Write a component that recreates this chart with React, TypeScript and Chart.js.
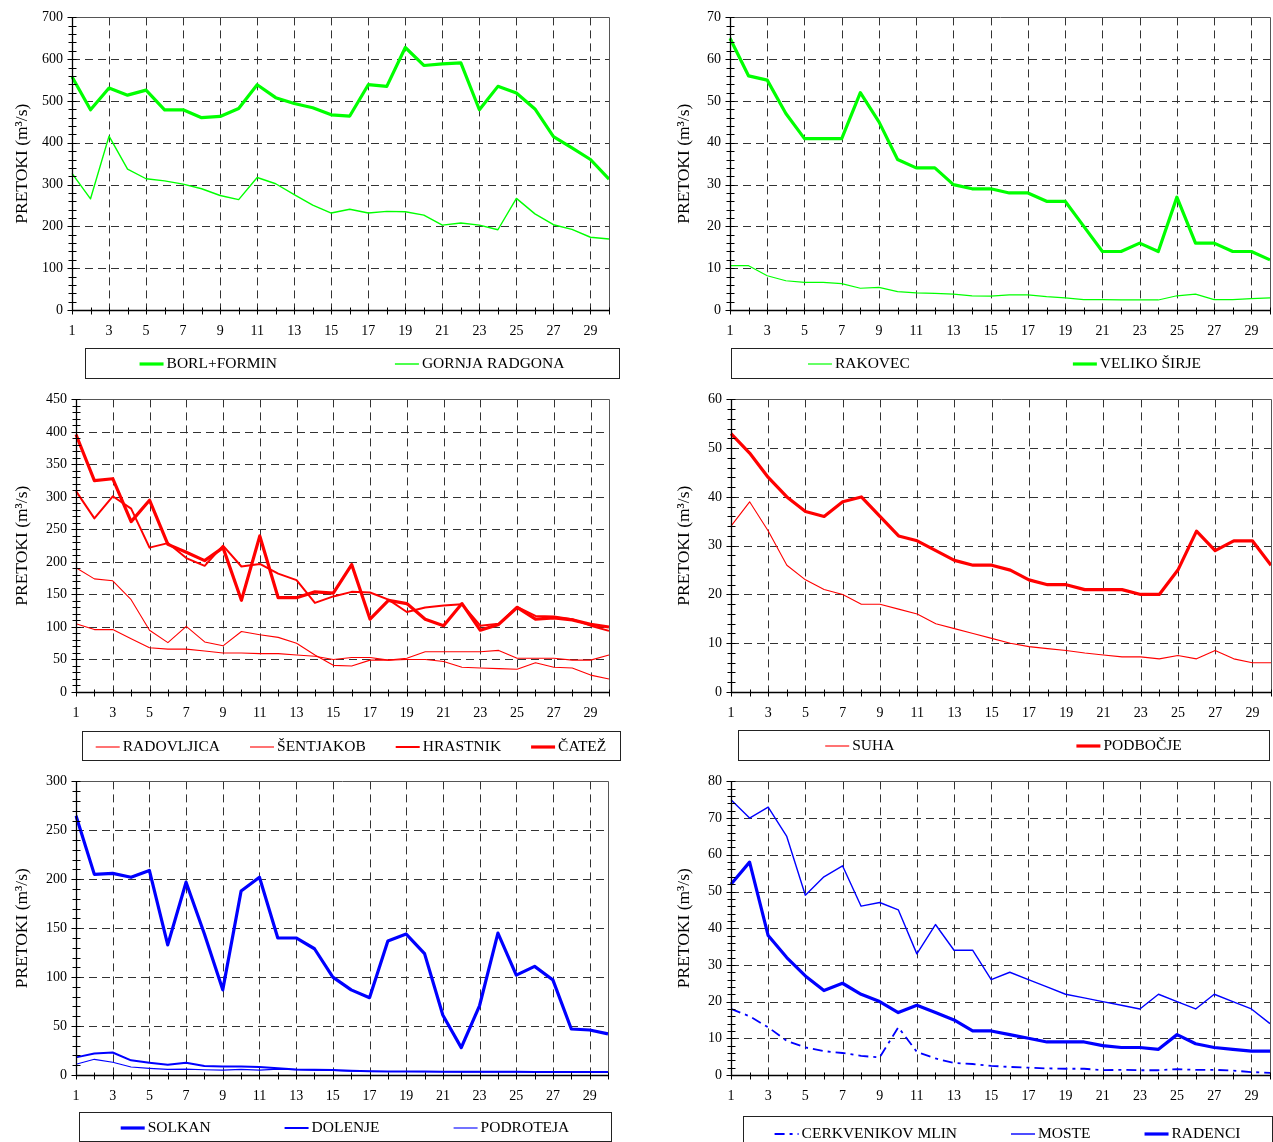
import React, { useEffect, useRef } from 'react';
import { Chart, registerables } from 'chart.js';

Chart.register(...registerables);

// ---------- data ----------
const DAYS = ['1', '2', '3', '4', '5', '6', '7', '8', '9', '10', '11', '12', '13', '14', '15',
  '16', '17', '18', '19', '20', '21', '22', '23', '24', '25', '26', '27', '28', '29', '30'];

const BORL_FORMIN = [558, 479, 531, 514, 526, 479, 479, 460, 463, 482, 539, 508, 494, 484, 467, 464, 539, 535, 628, 585, 589, 591, 479, 535, 519, 481, 415, 388, 360, 313];
const GORNJA_RADGONA = [327, 266, 416, 337, 314, 309, 301, 290, 274, 264, 317, 302, 276, 251, 232, 241, 232, 236, 235, 227, 203, 208, 203, 192, 267, 230, 204, 193, 174, 170];

const RAKOVEC = [10.6, 10.6, 8.2, 7, 6.6, 6.6, 6.3, 5.2, 5.4, 4.4, 4.1, 4.0, 3.8, 3.4, 3.3, 3.6, 3.6, 3.2, 2.9, 2.5, 2.5, 2.4, 2.4, 2.4, 3.4, 3.8, 2.5, 2.5, 2.7, 2.9];
const VELIKO_SIRJE = [65, 56, 55, 47, 41, 41, 41, 52, 45, 36, 34, 34, 30, 29, 29, 28, 28, 26, 26, 20, 14, 14, 16, 14, 27, 16, 16, 14, 14, 12];

const RADOVLJICA = [105, 96, 96, 82, 68, 66, 66, 63, 60, 60, 59, 59, 57, 55, 50, 53, 53, 49, 52, 62, 62, 62, 62, 64, 52, 52, 52, 49, 49, 57];
const SENTJAKOB = [191, 174, 171, 142, 95, 76, 101, 77, 71, 93, 88, 84, 75, 57, 41, 40, 49, 49, 50, 50, 47, 38, 37, 36, 35, 45, 38, 37, 26, 20];
const HRASTNIK = [309, 267, 301, 282, 222, 229, 206, 194, 225, 193, 197, 182, 172, 137, 147, 154, 153, 142, 123, 130, 133, 135, 102, 105, 131, 117, 116, 112, 102, 94];
const CATEZ = [396, 325, 328, 262, 295, 227, 215, 202, 222, 141, 240, 145, 145, 154, 152, 196, 112, 141, 136, 112, 102, 136, 95, 104, 130, 112, 114, 111, 104, 100];

const SUHA = [34, 39, 33, 26, 23, 21, 20, 18, 18, 17, 16, 14, 13, 12, 11, 10, 9.3, 8.9, 8.5, 8.0, 7.6, 7.2, 7.2, 6.8, 7.5, 6.8, 8.5, 6.8, 6.0, 6.0];
const PODBOCJE = [53, 49, 44, 40, 37, 36, 39, 40, 36, 32, 31, 29, 27, 26, 26, 25, 23, 22, 22, 21, 21, 21, 20, 20, 25, 33, 29, 31, 31, 26];

const SOLKAN = [265, 205, 206, 202, 209, 133, 197, 144, 87, 188, 202, 140, 140, 129, 100, 87, 79, 137, 144, 124, 61, 28, 71, 145, 102, 111, 97, 47, 46, 42];
const DOLENJE = [18, 22, 23, 15, 12.5, 10.4, 12.5, 9.3, 8.6, 8.6, 8.2, 6.8, 5.7, 5.4, 5, 4.3, 3.9, 3.7, 3.6, 3.5, 3.4, 3.3, 3.3, 3.2, 3.2, 3.1, 3.1, 3.0, 3.0, 3.0];
const PODROTEJA = [11, 16, 13, 8.2, 6.8, 5.7, 6, 5.4, 5, 5.7, 5, 6, 5.4, 5, 4.7, 4.0, 3.8, 3.6, 3.5, 3.4, 3.3, 3.2, 3.2, 3.1, 3.1, 3.0, 3.0, 2.9, 2.9, 2.9];

const CERKVENIKOV_MLIN = [18, 16, 13, 9.3, 7.5, 6.5, 6, 5.2, 4.8, 13, 6.3, 4.5, 3.3, 3, 2.5, 2.2, 2, 1.8, 1.7, 1.7, 1.3, 1.4, 1.3, 1.3, 1.6, 1.4, 1.4, 1.2, 0.8, 0.6];
const MOSTE = [75, 70, 73, 65, 49, 54, 57, 46, 47, 45, 33, 41, 34, 34, 26, 28, 26, 24, 22, 21, 20, 19, 18, 22, 20, 18, 22, 20, 18, 14];
const RADENCI = [52, 58, 38, 32, 27, 23, 25, 22, 20, 17, 19, 17, 15, 12, 12, 11, 10, 9, 9, 9, 8, 7.5, 7.5, 7, 11, 8.5, 7.5, 7, 6.5, 6.5];

// ---------- styles ----------
const GREEN = '#00ff00';
const RED = '#ff0000';
const BLUE = '#0000ff';
const FONT = '"Liberation Serif", "Times New Roman", serif';
const Y_TITLE = 'PRETOKI (m³/s)';

type Series = { label: string; data: number[]; color: string; width: number; dash?: number[] };
type PanelCfg = {
  left: number; top: number; w: number; h: number;
  plotLeft: number; plotRight: number; plotTop: number; plotBottom: number;
  yMax: number; yStep: number; yMinor: number; titlePad: number;
  box: [number, number, number, number]; gap: number;
  series: Series[];
};

const PANELS: PanelCfg[] = [
  {
    left: 0, top: 0, w: 636, h: 382, plotLeft: 72, plotRight: 609, plotTop: 17, plotBottom: 310,
    yMax: 700, yStep: 100, yMinor: 20, titlePad: 11.5, box: [85, 348, 619, 378], gap: 118,
    series: [
      { label: 'BORL+FORMIN', data: BORL_FORMIN, color: GREEN, width: 3.2 },
      { label: 'GORNJA RADGONA', data: GORNJA_RADGONA, color: GREEN, width: 1.4 },
    ],
  },
  {
    left: 660, top: 0, w: 626, h: 382, plotLeft: 70, plotRight: 610, plotTop: 17, plotBottom: 310,
    yMax: 70, yStep: 10, yMinor: 2, titlePad: 13.5, box: [71, 348, 618, 378], gap: 163,
    series: [
      { label: 'RAKOVEC', data: RAKOVEC, color: GREEN, width: 1.2 },
      { label: 'VELIKO ŠIRJE', data: VELIKO_SIRJE, color: GREEN, width: 3.2 },
    ],
  },
  {
    left: 0, top: 382, w: 636, h: 382, plotLeft: 76, plotRight: 609, plotTop: 17, plotBottom: 310,
    yMax: 450, yStep: 50, yMinor: 10, titlePad: 11.5, box: [82, 349, 620, 378], gap: 30,
    series: [
      { label: 'RADOVLJICA', data: RADOVLJICA, color: RED, width: 1.1 },
      { label: 'ŠENTJAKOB', data: SENTJAKOB, color: RED, width: 1.1 },
      { label: 'HRASTNIK', data: HRASTNIK, color: RED, width: 2 },
      { label: 'ČATEŽ', data: CATEZ, color: RED, width: 3.2 },
    ],
  },
  {
    left: 660, top: 382, w: 626, h: 382, plotLeft: 71, plotRight: 611, plotTop: 17, plotBottom: 310,
    yMax: 60, yStep: 10, yMinor: 2, titlePad: 13.5, box: [78, 348, 609, 378], gap: 182,
    series: [
      { label: 'SUHA', data: SUHA, color: RED, width: 1.1 },
      { label: 'PODBOČJE', data: PODBOCJE, color: RED, width: 3.2 },
    ],
  },
  {
    left: 0, top: 764, w: 636, h: 378, plotLeft: 76, plotRight: 608, plotTop: 17, plotBottom: 311,
    yMax: 300, yStep: 50, yMinor: 10, titlePad: 11.5, box: [79, 348, 611, 377], gap: 74,
    series: [
      { label: 'SOLKAN', data: SOLKAN, color: BLUE, width: 3.2 },
      { label: 'DOLENJE', data: DOLENJE, color: BLUE, width: 2 },
      { label: 'PODROTEJA', data: PODROTEJA, color: BLUE, width: 1.1 },
    ],
  },
  {
    left: 660, top: 764, w: 626, h: 378, plotLeft: 71, plotRight: 610, plotTop: 17, plotBottom: 311,
    yMax: 80, yStep: 10, yMinor: 2, titlePad: 13.5, box: [83, 352, 612, 386], gap: 54,
    series: [
      { label: 'CERKVENIKOV MLIN', data: CERKVENIKOV_MLIN, color: BLUE, width: 1.8, dash: [10, 5, 3, 5] },
      { label: 'MOSTE', data: MOSTE, color: BLUE, width: 1.4 },
      { label: 'RADENCI', data: RADENCI, color: BLUE, width: 3.2 },
    ],
  },
];

function makePlugin(cfg: PanelCfg) {
  const px = (v: number) => Math.round(v) + 0.5;
  return {
    id: 'frameGrid',
    beforeDatasetsDraw(chart: any) {
      const { ctx, chartArea: a, scales } = chart;
      const x = scales.x;
      const y = scales.y;
      ctx.save();
      ctx.lineWidth = 1;
      ctx.strokeStyle = '#333';
      ctx.setLineDash([8, 5]);
      for (const t of y.ticks) {
        if (t.value <= 0 || t.value >= cfg.yMax) continue;
        const yy = px(y.getPixelForValue(t.value));
        ctx.beginPath();
        ctx.moveTo(a.left, yy);
        ctx.lineTo(a.right, yy);
        ctx.stroke();
      }
      x.ticks.forEach((_t: any, i: number) => {
        if (i === 0 || i % 2 === 1 || i >= x.ticks.length - 1) return;
        const xx = px(x.getPixelForTick(i));
        ctx.beginPath();
        ctx.moveTo(xx, a.top);
        ctx.lineTo(xx, a.bottom);
        ctx.stroke();
      });
      ctx.restore();
    },
    afterDatasetsDraw(chart: any) {
      const { ctx, chartArea: a, scales } = chart;
      const x = scales.x;
      const y = scales.y;
      const L = px(a.left);
      const B = px(a.bottom);
      ctx.save();
      ctx.setLineDash([]);
      ctx.lineWidth = 1;
      ctx.strokeStyle = '#555';
      ctx.beginPath();
      ctx.moveTo(L, px(a.top));
      ctx.lineTo(px(a.right), px(a.top));
      ctx.lineTo(px(a.right), B);
      ctx.stroke();
      ctx.strokeStyle = '#000';
      ctx.lineWidth = 1.3;
      ctx.beginPath();
      ctx.moveTo(L, px(a.top));
      ctx.lineTo(L, B);
      ctx.lineTo(px(a.right), B);
      ctx.stroke();
      ctx.lineWidth = 1;
      const n = Math.round(cfg.yMax / cfg.yMinor);
      const per = Math.round(cfg.yStep / cfg.yMinor);
      for (let k = 0; k <= n; k++) {
        const yy = px(y.getPixelForValue(k * cfg.yMinor));
        const major = k % per === 0;
        ctx.beginPath();
        ctx.moveTo(L - (major ? 5 : 4), yy);
        ctx.lineTo(L + 4, yy);
        ctx.stroke();
      }
      x.ticks.forEach((_t: any, i: number) => {
        const xx = px(x.getPixelForTick(i));
        ctx.beginPath();
        ctx.moveTo(xx, B - 3);
        ctx.lineTo(xx, B + 4);
        ctx.stroke();
      });
      ctx.restore();
    },
    afterDraw(chart: any) {
      const { ctx } = chart;
      const [x0, y0, x1, y1] = cfg.box;
      ctx.save();
      ctx.setLineDash([]);
      ctx.lineWidth = 1;
      ctx.strokeStyle = '#222';
      ctx.strokeRect(px(x0), px(y0), Math.round(x1 - x0), Math.round(y1 - y0));
      ctx.font = `15.5px ${FONT}`;
      ctx.textBaseline = 'middle';
      ctx.fillStyle = '#000';
      const sample = 24;
      const sgap = 3;
      const ds = chart.data.datasets;
      const widths = ds.map((d: any) => sample + sgap + ctx.measureText(d.label).width);
      const total = widths.reduce((s: number, w: number) => s + w, 0) + cfg.gap * (ds.length - 1);
      let cx = (x0 + x1) / 2 - total / 2;
      const cy = Math.round((y0 + y1) / 2) + 1;
      ds.forEach((d: any, i: number) => {
        ctx.save();
        ctx.strokeStyle = d.borderColor;
        ctx.lineWidth = d.borderWidth;
        ctx.setLineDash(d.borderDash || []);
        ctx.beginPath();
        ctx.moveTo(cx, cy);
        ctx.lineTo(cx + sample, cy);
        ctx.stroke();
        ctx.restore();
        ctx.fillText(d.label, cx + sample + sgap, cy);
        cx += widths[i] + cfg.gap;
      });
      ctx.restore();
    },
  };
}

function Panel({ cfg }: { cfg: PanelCfg }) {
  const ref = useRef<HTMLCanvasElement | null>(null);
  useEffect(() => {
    const canvas = ref.current;
    if (!canvas) return;
    const chart = new Chart(canvas, {
      type: 'line',
      data: {
        labels: DAYS,
        datasets: cfg.series.map((s) => ({
          label: s.label,
          data: s.data,
          borderColor: s.color,
          backgroundColor: s.color,
          borderWidth: s.width,
          borderDash: s.dash || [],
          pointRadius: 0,
          pointHoverRadius: 0,
          tension: 0,
          fill: false,
          borderJoinStyle: 'round' as const,
        })),
      },
      options: {
        responsive: false,
        animation: false,
        devicePixelRatio: 1,
        events: [],
        layout: { padding: { left: 0, top: cfg.plotTop, right: cfg.w - cfg.plotRight, bottom: 0 } },
        plugins: { legend: { display: false }, tooltip: { enabled: false }, title: { display: false } },
        scales: {
          x: {
            type: 'category',
            offset: false,
            grid: { display: false, drawTicks: false },
            border: { display: false },
            ticks: {
              autoSkip: false,
              maxRotation: 0,
              minRotation: 0,
              padding: 13,
              color: '#000',
              font: { family: FONT, size: 14 },
              callback: (_v: any, i: number) => (i % 2 === 0 ? DAYS[i] : ''),
            },
            afterFit: (scale: any) => { scale.height = cfg.h - cfg.plotBottom; },
          },
          y: {
            type: 'linear',
            min: 0,
            max: cfg.yMax,
            grid: { display: false, drawTicks: false },
            border: { display: false },
            ticks: { stepSize: cfg.yStep, padding: 9, color: '#000', font: { family: FONT, size: 14 } },
            title: {
              display: true,
              text: Y_TITLE,
              color: '#000',
              font: { family: FONT, size: 17.5 },
              padding: { top: cfg.titlePad, bottom: 0 },
            },
            afterFit: (scale: any) => { scale.width = cfg.plotLeft; },
          },
        },
      } as any,
      plugins: [makePlugin(cfg)],
    });
    return () => chart.destroy();
  }, [cfg]);
  return (
    <canvas
      ref={ref}
      width={cfg.w}
      height={cfg.h}
      style={{ position: 'absolute', left: cfg.left, top: cfg.top, width: cfg.w, height: cfg.h }}
    />
  );
}

export default function App() {
  return (
    <div style={{ position: 'absolute', left: 0, top: 0, width: 1273, height: 1142, overflow: 'hidden', background: '#fff' }}>
      {PANELS.map((p, i) => (
        <Panel key={i} cfg={p} />
      ))}
    </div>
  );
}
